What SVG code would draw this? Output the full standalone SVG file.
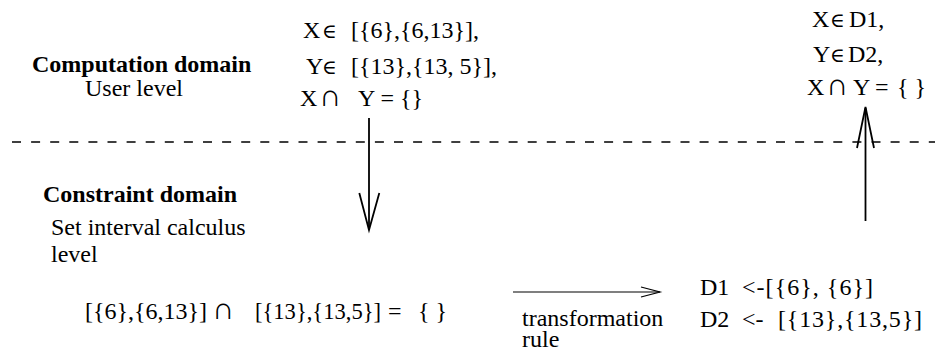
<svg xmlns="http://www.w3.org/2000/svg" width="935" height="351" viewBox="0 0 935 351">
<style>
text { font-family: "Liberation Serif", "DejaVu Serif", serif; font-size: 24px; fill: #000; }
.b { font-weight: bold; }
.in { font-size: 20px; font-family: "DejaVu Serif", serif; }
.cap { font-size: 31px; }
.sep { stroke: #000; stroke-width: 1.3; stroke-dasharray: 9 10.1; fill: none; }
.conn { stroke: #000; stroke-width: 1.8; fill: none; }
.thin { stroke: #000; stroke-width: 1.2; fill: none; }
</style>
<rect width="935" height="351" fill="#fff"/>
<line class="sep" x1="12" y1="142" x2="935" y2="142"/>
<g id="computation-label">
<text class="b" x="32" y="72">Computation domain</text>
<text x="85" y="96">User level</text>
</g>
<g id="user-constraints">
<text x="303" y="38">X<tspan class="in" x="322">∈</tspan><tspan x="351">[{6},{6,13}],</tspan></text>
<text x="306" y="74">Y<tspan class="in" x="322">∈</tspan><tspan x="351">[{13},{13, 5}],</tspan></text>
<text x="300" y="106">X<tspan class="cap" x="319">∩</tspan><tspan x="358">Y = {}</tspan></text>
</g>
<g id="result-constraints">
<text x="812" y="27">X<tspan class="in" x="830">∈</tspan><tspan x="849">D1,</tspan></text>
<text x="813" y="62">Y<tspan class="in" x="830">∈</tspan><tspan x="848">D2,</tspan></text>
<text x="807" y="95">X<tspan class="cap" x="826">∩</tspan><tspan x="853">Y</tspan><tspan x="875">=</tspan><tspan x="897">{ }</tspan></text>
</g>
<g id="constraint-label">
<text class="b" x="43" y="202">Constraint domain</text>
<text x="51" y="235">Set interval calculus</text>
<text x="51" y="262">level</text>
</g>
<g id="set-interval-constraint">
<text x="85" y="319">[{6},{6,13}]<tspan class="cap" x="212">∩</tspan><tspan x="255" textLength="126" lengthAdjust="spacingAndGlyphs">[{13},{13,5}]</tspan><tspan x="388">=</tspan><tspan x="418">{ }</tspan></text>
</g>
<g id="transformation-label">
<text x="522" y="326">transformation</text>
<text x="522" y="347">rule</text>
</g>
<g id="domains">
<text x="700" y="295">D1<tspan x="742" textLength="131" lengthAdjust="spacing">&lt;-[{6}, {6}]</tspan></text>
<text x="700" y="327">D2<tspan x="742">&lt;-</tspan><tspan x="778" textLength="144" lengthAdjust="spacing">[{13},{13,5}]</tspan></text>
</g>
<g id="connectors">
<line class="conn" x1="369" y1="118" x2="369" y2="230"/>
<polyline class="conn" points="359.3,193 369,230 379.3,193"/>
<line class="conn" x1="865.5" y1="221" x2="865.5" y2="108"/>
<polyline class="conn" points="857,148 865.5,107 874,148"/>
<line class="thin" x1="513" y1="292" x2="660" y2="292"/>
<polyline class="thin" points="641,287 660,292 641,297"/>
</g>
</svg>
